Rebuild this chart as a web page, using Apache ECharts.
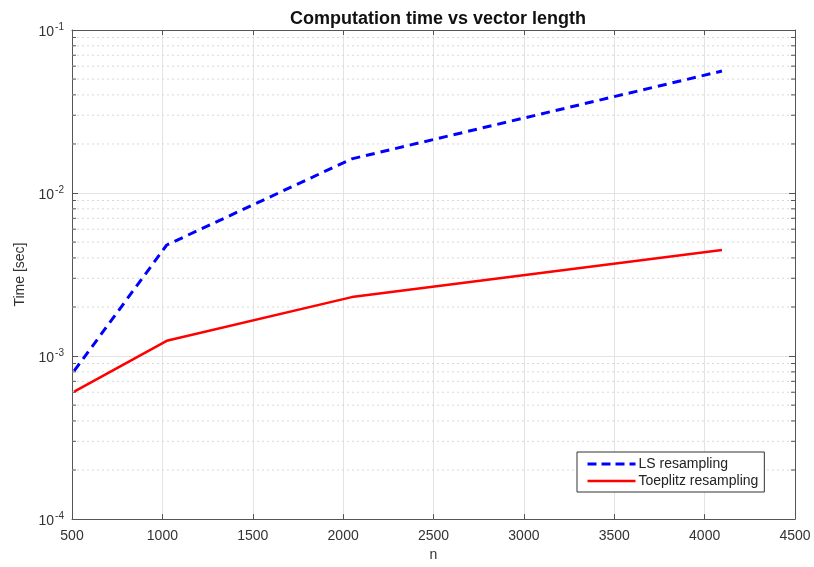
<!DOCTYPE html>
<html><head><meta charset="utf-8">
<script src="https://cdn.jsdelivr.net/npm/echarts@6/dist/echarts.min.js"></script>
<style>html,body{margin:0;padding:0;background:#fff}#c{width:814px;height:567px}</style>
</head><body><div id="c"></div>
<script>
const nValues = [512, 1024, 2048, 4096];
const lsTimes = [8.1e-4, 4.8e-3, 1.62e-2, 5.6e-2];
const toeplitzTimes = [6.05e-4, 1.24e-3, 2.3e-3, 4.47e-3];
const xTicks = [500, 1000, 1500, 2000, 2500, 3000, 3500, 4000, 4500];
const yDecades = [1e-4, 1e-3, 1e-2, 1e-1];
const minorMultipliers = [2, 3, 4, 5, 6, 7, 8, 9];

const minorVals = [];
for (let i = 0; i < yDecades.length - 1; i++) {
  for (const m of minorMultipliers) minorVals.push([xTicks[0], m * yDecades[i]]);
}
const axisColor = '#555';
const textColor = '#333';
const font = 'Liberation Sans, Arial, sans-serif';

const chart = echarts.init(document.getElementById('c'));
chart.setOption({
  animation: false,
  backgroundColor: '#fff',
  title: {
    text: 'Computation time vs vector length',
    left: 433, top: 5, textAlign: 'center',
    textStyle: {fontFamily: font, fontSize: 18, fontWeight: 'bold', color: '#111'}
  },
  grid: {left: 72, right: 19, top: 30, bottom: 46, containLabel: false},
  legend: {
    data: [
      {name: 'LS resampling', lineStyle: {width: 3, type: [9, 5]}},
      {name: 'Toeplitz resampling', lineStyle: {width: 2.5}}
    ],
    orient: 'vertical', left: 577, top: 452,
    itemWidth: 48, itemHeight: 14, itemGap: 3,
    padding: [5, 6, 4, 9],
    itemStyle: {color: 'rgba(0,0,0,0)', borderColor: 'rgba(0,0,0,0)', borderWidth: 0, opacity: 0},
    backgroundColor: '#fff', borderColor: '#333', borderWidth: 1, borderRadius: 0,
    textStyle: {fontFamily: font, fontSize: 14, color: '#222', padding: [0, 0, 0, -2]}
  },
  xAxis: [{
    type: 'value', min: xTicks[0], max: xTicks[xTicks.length - 1], interval: 500,
    name: 'n', nameLocation: 'middle', nameGap: 27,
    nameTextStyle: {fontFamily: font, fontSize: 14, color: textColor},
    axisLine: {show: true, lineStyle: {color: axisColor, width: 1}},
    axisTick: {show: true, inside: true, length: 5, lineStyle: {color: axisColor}},
    axisLabel: {fontFamily: font, fontSize: 14, color: textColor, margin: 10, formatter: v => String(v)},
    splitLine: {show: true, lineStyle: {color: '#e3e3e3', width: 1}}
  }, {
    type: 'value', position: 'top', min: xTicks[0], max: xTicks[xTicks.length - 1], interval: 500,
    axisLine: {show: true, lineStyle: {color: axisColor, width: 1}},
    axisTick: {show: true, inside: true, length: 5, lineStyle: {color: axisColor}},
    axisLabel: {show: false}, splitLine: {show: false}
  }],
  yAxis: [{
    type: 'log', logBase: 10, min: yDecades[0], max: yDecades[yDecades.length - 1],
    name: 'Time [sec]', nameLocation: 'middle', nameGap: 43, nameRotate: 90,
    nameTextStyle: {fontFamily: font, fontSize: 14, color: textColor},
    axisLine: {show: true, lineStyle: {color: axisColor, width: 1}},
    axisTick: {show: true, inside: true, length: 6, lineStyle: {color: axisColor}},
    axisLabel: {
      margin: 8,
      formatter: v => '{b|10}{s|' + Math.round(Math.log10(v)) + '}',
      rich: {
        b: {fontFamily: font, fontSize: 14, color: textColor, padding: [5, 1, 0, 0]},
        s: {fontFamily: font, fontSize: 10, color: textColor, padding: [0, 0, 6, 0]}
      }
    },
    splitLine: {show: true, lineStyle: {color: '#e3e3e3', width: 1}}
  }, {
    type: 'log', logBase: 10, position: 'right', min: yDecades[0], max: yDecades[yDecades.length - 1],
    axisLine: {show: true, lineStyle: {color: axisColor, width: 1}},
    axisTick: {show: true, inside: true, length: 6, lineStyle: {color: axisColor}},
    axisLabel: {show: false}, splitLine: {show: false}
  }],
  series: [{
    name: 'minor', type: 'custom', silent: true, z: 1,
    data: minorVals,
    renderItem: (params, api) => {
      const v = api.value(1);
      const p1 = api.coord([xTicks[0], v]);
      const p2 = api.coord([xTicks[xTicks.length - 1], v]);
      return {type: 'group', children: [
        {type: 'line', shape: {x1: p1[0], y1: p1[1], x2: p2[0], y2: p2[1]},
         style: {stroke: '#d8d8d8', lineWidth: 1, lineDash: [2, 3]}},
        {type: 'line', shape: {x1: p1[0], y1: p1[1], x2: p1[0] + 4, y2: p1[1]},
         style: {stroke: axisColor, lineWidth: 1}},
        {type: 'line', shape: {x1: p2[0] - 4, y1: p2[1], x2: p2[0], y2: p2[1]},
         style: {stroke: axisColor, lineWidth: 1}}
      ]};
    }
  }, {
    name: 'LS resampling', type: 'line', z: 3,
    data: nValues.map((n, i) => [n, lsTimes[i]]),
    symbol: 'none',
    lineStyle: {color: '#0000ff', width: 3, type: [9, 6]},
    itemStyle: {color: '#0000ff'}
  }, {
    name: 'Toeplitz resampling', type: 'line', z: 3,
    data: nValues.map((n, i) => [n, toeplitzTimes[i]]),
    symbol: 'none',
    lineStyle: {color: '#ff0000', width: 2.5},
    itemStyle: {color: '#ff0000'}
  }]
});
</script>
</body></html>
